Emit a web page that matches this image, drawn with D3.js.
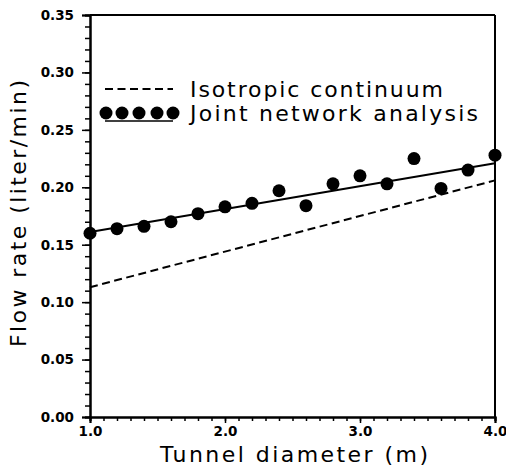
<!DOCTYPE html>
<html>
<head>
<meta charset="utf-8">
<script src="https://cdn.jsdelivr.net/npm/d3@7"></script>
<style>
  body { margin: 0; background: #fff; }
</style>
</head>
<body>
<svg></svg>
<script>
// tunnel diameter (m) vs flow rate (liter/min)
var diameters = [1.0, 1.2, 1.4, 1.6, 1.8, 2.0, 2.2, 2.4, 2.6, 2.8, 3.0, 3.2, 3.4, 3.6, 3.8, 4.0];
var jointFlow = [0.160, 0.164, 0.166, 0.170, 0.177, 0.183, 0.186, 0.197, 0.184, 0.203, 0.210, 0.203, 0.225, 0.199, 0.215, 0.228];

// fitted line through the joint network points
var fitDiam = [1.0, 4.0];
var fitFlow = [0.161, 0.221];

// isotropic continuum solution
var isoDiam = [1.0, 4.0];
var isoFlow = [0.113, 0.206];

var xTicks = [1.0, 2.0, 3.0, 4.0];
var yTicks = [0.00, 0.05, 0.10, 0.15, 0.20, 0.25, 0.30, 0.35];
var legendLabels = ["Isotropic continuum", "Joint network analysis"];

var svgWidth = 506, svgHeight = 470;
var margin = {left: 90, top: 15, right: 11, bottom: 53};
var w = svgWidth - margin.left - margin.right;
var h = svgHeight - margin.top - margin.bottom;

var svg = d3.select('svg')
    .attr("width", svgWidth)
    .attr("height", svgHeight);

var g = svg.append("g")
    .attr("transform", "translate(" + margin.left + "," + margin.top + ")");

var xScale = d3.scaleLinear()
    .domain([1.0, 4.0])
    .range([0, w]);

var yScale = d3.scaleLinear()
    .domain([0, 0.35])
    .range([h, 0]);

// minor ticks first
g.append("g")
    .call(d3.axisLeft(yScale)
        .tickValues(d3.range(0, 0.3501, 0.01))
        .tickSize(5)
        .tickFormat(""));

g.append("g")
    .attr("transform", "translate(0," + h + ")")
    .call(d3.axisBottom(xScale)
        .tickValues(d3.range(1.0, 4.001, 0.1))
        .tickSize(4)
        .tickFormat(""));

g.append("g")
    .call(d3.axisLeft(yScale)
        .tickValues(yTicks)
        .tickSize(8)
        .tickPadding(8)
        .tickFormat(d3.format(".2f")));

g.append("g")
    .attr("transform", "translate(0," + h + ")")
    .call(d3.axisBottom(xScale)
        .tickValues(xTicks)
        .tickSize(6)
        .tickPadding(3)
        .tickFormat(d3.format(".1f")));

g.selectAll(".domain")
    .attr("stroke", "#000")
    .attr("stroke-width", 2);
g.selectAll(".tick line")
    .attr("stroke", "#000")
    .attr("stroke-width", 1.5);
g.selectAll(".tick text")
    .attr("fill", "#000")
    .style("font-family", "DejaVu Sans")
    .style("font-weight", "bold")
    .style("font-size", "13.5px");

// frame top + right
g.append("line")
    .attr("x1", 0).attr("x2", w)
    .attr("y1", 0).attr("y2", 0)
    .attr("stroke", "#000").attr("stroke-width", 2);
g.append("line")
    .attr("x1", w).attr("x2", w)
    .attr("y1", 0).attr("y2", h)
    .attr("stroke", "#000").attr("stroke-width", 2);

var line = d3.line()
    .x(function(d) { return xScale(d[0]); })
    .y(function(d) { return yScale(d[1]); });

g.append("path")
    .datum(d3.zip(isoDiam, isoFlow))
    .attr("d", line)
    .attr("fill", "none")
    .attr("stroke", "#000")
    .attr("stroke-width", 2)
    .attr("stroke-dasharray", "8,4.5");

g.append("path")
    .datum(d3.zip(fitDiam, fitFlow))
    .attr("d", line)
    .attr("fill", "none")
    .attr("stroke", "#000")
    .attr("stroke-width", 2);

g.selectAll("circle.pt")
    .data(d3.zip(diameters, jointFlow))
    .enter()
    .append("circle")
    .attr("class", "pt")
    .attr("cx", function(d) { return xScale(d[0]); })
    .attr("cy", function(d) { return yScale(d[1]); })
    .attr("r", 6.5)
    .attr("fill", "#000");

// legend
var leg = svg.append("g");
leg.append("line")
    .attr("x1", 105).attr("x2", 173)
    .attr("y1", 89).attr("y2", 89)
    .attr("stroke", "#000").attr("stroke-width", 2)
    .attr("stroke-dasharray", "8,4.5");
leg.append("line")
    .attr("x1", 105).attr("x2", 173)
    .attr("y1", 121).attr("y2", 121)
    .attr("stroke", "#000").attr("stroke-width", 1.5);
leg.selectAll("circle")
    .data([106, 122, 139, 157, 173])
    .enter()
    .append("circle")
    .attr("cx", function(d) { return d; })
    .attr("cy", 113)
    .attr("r", 6.5)
    .attr("fill", "#000");

leg.selectAll("text")
    .data(legendLabels)
    .enter()
    .append("text")
    .attr("x", 190)
    .attr("y", function(d, i) { return 97 + i * 24; })
    .attr("textLength", function(d, i) { return i == 0 ? 253 : 288; })
    .attr("lengthAdjust", "spacing")
    .style("font-family", "DejaVu Sans")
    .style("font-size", "22px")
    .text(function(d) { return d; });

// axis titles
svg.append("text")
    .attr("x", 160)
    .attr("y", 462)
    .attr("textLength", 268)
    .attr("lengthAdjust", "spacing")
    .style("font-family", "DejaVu Sans")
    .style("font-size", "22px")
    .text("Tunnel diameter (m)");

svg.append("text")
    .attr("transform", "translate(26,347) rotate(-90)")
    .attr("textLength", 267)
    .attr("lengthAdjust", "spacing")
    .style("font-family", "DejaVu Sans")
    .style("font-size", "22px")
    .text("Flow rate (liter/min)");
</script>
</body>
</html>
